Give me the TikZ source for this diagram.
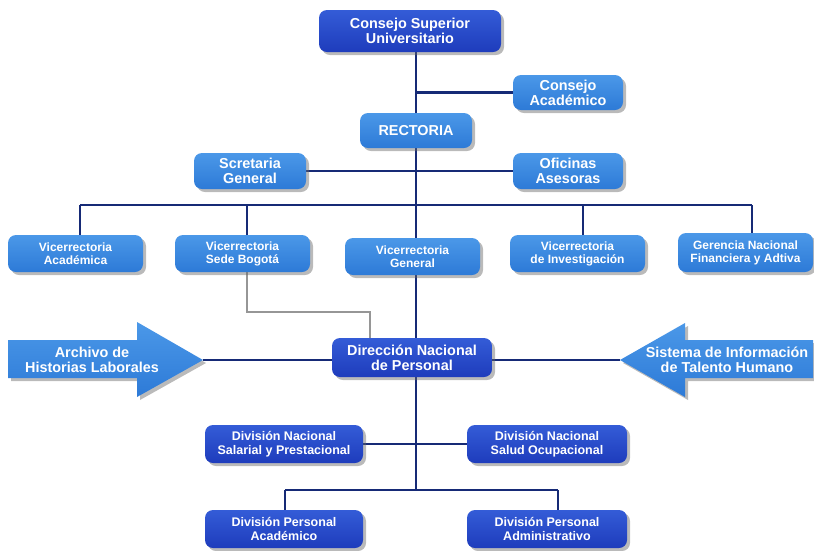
\documentclass[tikz,border=0pt]{standalone}
\usepackage{fontspec}
\setmainfont{Liberation Sans}
\usetikzlibrary{shadows,backgrounds}
\definecolor{dkblue}{RGB}{30,60,188}
\definecolor{dkblueT}{RGB}{52,92,215}
\definecolor{mdblue}{RGB}{45,122,215}
\definecolor{mdblueT}{RGB}{75,152,232}
\definecolor{navy}{RGB}{22,42,118}
\definecolor{greyline}{RGB}{150,150,150}
\tikzset{
  box/.style={rounded corners=8pt, text=white, align=center, inner sep=1pt,
    drop shadow={shadow xshift=3pt, shadow yshift=-3pt, opacity=0.45, fill=black!60}},
  dark/.style={box, top color=dkblueT, bottom color=dkblue},
  med/.style={box, top color=mdblueT, bottom color=mdblue},
  big/.style={font=\bfseries\fontsize{14.4}{15}\selectfont},
  mid/.style={font=\bfseries\fontsize{12}{13}\selectfont},
  divf/.style={font=\bfseries\fontsize{12.5}{14}\selectfont},
  link/.style={draw=navy, line width=2.3pt},
  glink/.style={draw=greyline, line width=1.6pt},
  arrowshape/.style={top color=mdblueT, bottom color=mdblue,
    drop shadow={shadow xshift=3pt, shadow yshift=-3pt, opacity=0.45, fill=black!60}},
}
\begin{document}
\begin{tikzpicture}[x=1pt,y=-1pt]
\useasboundingbox (0,0) rectangle (814,550);

% top part
\node[dark,big,minimum width=182pt,minimum height=42pt] (csu) at (410,31) {Consejo Superior\\Universitario};
\node[med,big,minimum width=110pt,minimum height=35pt] (ca) at (568,92.5) {Consejo\\Académico};
\node[med,big,minimum width=112pt,minimum height=35pt] (rect) at (416,130.5) {RECTORIA};
\node[med,big,minimum width=112pt,minimum height=36pt] (sg) at (250,171) {Scretaria\\General};
\node[med,big,minimum width=110pt,minimum height=36pt] (oa) at (568,171) {Oficinas\\Asesoras};

% vicerrectorias
\node[med,mid,minimum width=135pt,minimum height=37pt] (va) at (75.5,253.5) {Vicerrectoria\\Académica};
\node[med,mid,minimum width=135pt,minimum height=37pt] (vsb) at (242.5,253.5) {Vicerrectoria\\Sede Bogotá};
\node[med,mid,minimum width=135pt,minimum height=37pt] (vg) at (412.5,256.5) {Vicerrectoria\\General};
\node[med,mid,minimum width=135pt,minimum height=37pt] (vi) at (577.5,253.5) {Vicerrectoria\\de Investigación};
\node[med,mid,minimum width=135pt,minimum height=39pt] (gn) at (745.5,252.5) {Gerencia Nacional\\Financiera y Adtiva};

% direccion
\node[dark,big,minimum width=160pt,minimum height=39pt] (dnp) at (412,357.5) {Dirección Nacional\\de Personal};

% arrows
\path[arrowshape] (8,340) -- (137,340) -- (137,322) -- (203,360) -- (137,397) -- (137,378) -- (8,378) -- cycle;
\coordinate (lt) at (203,360);
\node[big,text=white,align=center] (al) at (92,360) {Archivo de\\Historias Laborales};
\path[arrowshape] (813,340) -- (685,340) -- (685,323) -- (620,360) -- (685,397) -- (685,378) -- (813,378) -- cycle;
\coordinate (rt) at (620,360);
\node[big,text=white,align=center] (ar) at (727,360) {Sistema de Información\\de Talento Humano};

% divisiones
\node[dark,divf,minimum width=158pt,minimum height=38pt] (dns) at (284,444) {División Nacional\\Salarial y Prestacional};
\node[dark,divf,minimum width=160pt,minimum height=38pt] (dso) at (547,444) {División Nacional\\Salud Ocupacional};
\node[dark,divf,minimum width=158pt,minimum height=38pt] (dpa) at (284,529) {División Personal\\Académico};
\node[dark,divf,minimum width=160pt,minimum height=38pt] (dpad) at (547,529) {División Personal\\Administrativo};

% junction coordinates
\coordinate (hl) at (80,205);
\coordinate (hb) at (247,205);
\coordinate (hi) at (583,205);
\coordinate (hr) at (752,205);
\coordinate (g1) at (247,312);
\coordinate (g2) at (370,312);
\coordinate (bh) at (416,490);
\coordinate (bl) at (285,490);
\coordinate (br) at (558,490);

\begin{scope}[on background layer]
\draw[link] (rect.north) -- (rect.north |- csu.south);
\draw[link] (ca.west) -- (ca.west -| rect.north);
\draw[link] (sg.east) -- (oa.west);
\draw[link] (rect.south) -- (bh);
\draw[link] (hl) -- (hr);
\draw[link] (hl) -- (hl |- va.north);
\draw[link] (hb) -- (hb |- vsb.north);
\draw[link] (hi) -- (hi |- vi.north);
\draw[link] (hr) -- (hr |- gn.north);
\draw[glink] (hb |- vsb.south) -- (g1) -- (g2) -- (g2 |- dnp.north);
\draw[link] (lt) -- (lt -| dnp.west);
\draw[link] (rt) -- (rt -| dnp.east);
\draw[link] (dns.east) -- (dso.west);
\draw[link] (bl) -- (br);
\draw[link] (bl) -- (bl |- dpa.north);
\draw[link] (br) -- (br |- dpad.north);
\end{scope}
\end{tikzpicture}
\end{document}
